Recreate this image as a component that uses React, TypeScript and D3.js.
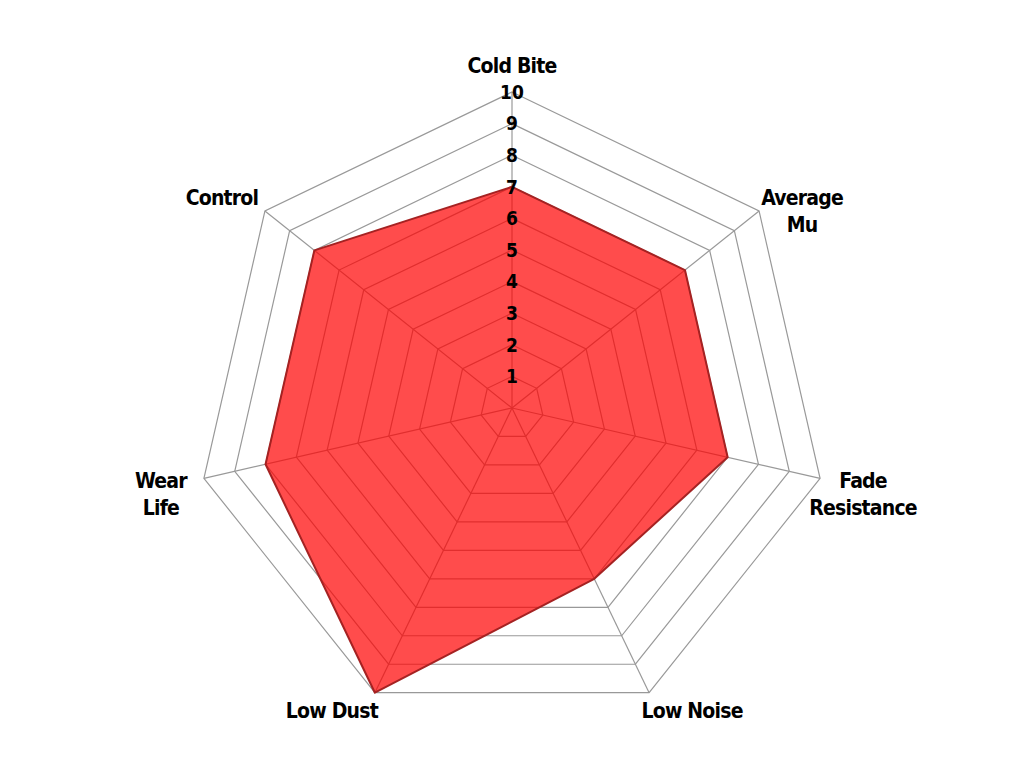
import * as d3 from "d3";

// axis names ("\n" splits a name over two lines)
const categories = [
  "Cold Bite",
  "Average\nMu",
  "Fade\nResistance",
  "Low Noise",
  "Low Dust",
  "Wear\nLife",
  "Control",
];
const values = [7, 7, 7, 6, 10, 8, 8];
const ticks = [1, 2, 3, 4, 5, 6, 7, 8, 9, 10];

const WIDTH = 1024;
const HEIGHT = 780;
const CX = 512;
const CY = 408;
const RADIUS = 316;
const FONT = "'Liberation Sans Narrow', 'Arial Narrow', 'DejaVu Sans Condensed', sans-serif";
const LABEL_DX = 43; // horizontal shift of side labels from the outer vertex
const LABEL_DY = 23; // vertical shift, scaled by the axis direction

export default function App() {
  const n = categories.length;
  const rScale = d3.scaleLinear().domain([0, 10]).range([0, RADIUS]);
  const angle = (i: number) => (i * 2 * Math.PI) / n;

  const ring = (r: number) =>
    d3
      .lineRadial<string>()
      .angle((_, i) => angle(i))
      .radius(r)
      .curve(d3.curveLinearClosed)(categories);

  const area = d3
    .lineRadial<number>()
    .angle((_, i) => angle(i))
    .radius((d) => rScale(d))
    .curve(d3.curveLinearClosed)(values);

  return (
    <svg
      width={WIDTH}
      height={HEIGHT}
      style={{ position: "absolute", left: 0, top: 0, background: "white" }}
    >
      <g transform={`translate(${CX}, ${CY})`}>
        {/* grid rings */}
        {ticks.map((t) => (
          <path key={t} d={ring(rScale(t)) ?? ""} fill="none" stroke="#999" strokeWidth={1.2} />
        ))}
        {/* spokes */}
        {categories.map((c, i) => (
          <line
            key={c}
            x1={0}
            y1={0}
            x2={RADIUS * Math.sin(angle(i))}
            y2={-RADIUS * Math.cos(angle(i))}
            stroke="#999"
            strokeWidth={1.2}
          />
        ))}

        {/* series */}
        <path d={area ?? ""} fill="rgba(255,0,0,0.7)" stroke="#a52222" strokeWidth={2} strokeLinejoin="round" />

        {/* tick labels along the first axis */}
        {ticks.map((t) => (
          <text
            key={t}
            x={0}
            y={-rScale(t)}
            dy="0.36em"
            textAnchor="middle"
            fontFamily={FONT}
            fontWeight="bold"
            fontSize={19}
            fill="#000"
          >
            {t}
          </text>
        ))}

        {/* axis labels */}
        {categories.map((c, i) => {
          const ux = Math.sin(angle(i));
          const uy = -Math.cos(angle(i));
          const vx = RADIUS * ux;
          const vy = RADIUS * uy;
          const side = Math.abs(ux) > 0.1 ? Math.sign(ux) : 0;
          const lx = vx + side * LABEL_DX;
          const ly = vy + uy * LABEL_DY - 3 + (side !== 0 && uy < -0.5 ? 4 : 0);
          const lines = c.split("\n");
          return (
            <text
              key={c}
              x={lx}
              y={ly}
              textAnchor="middle"
              fontFamily={FONT}
              fontWeight="bold"
              fontSize={21}
              letterSpacing="-0.8px"
              fill="#000"
            >
              {lines.map((l, j) => (
                <tspan key={j} x={lx} dy={j === 0 ? "0.35em" : "1.3em"}>
                  {l}
                </tspan>
              ))}
            </text>
          );
        })}
      </g>
    </svg>
  );
}
